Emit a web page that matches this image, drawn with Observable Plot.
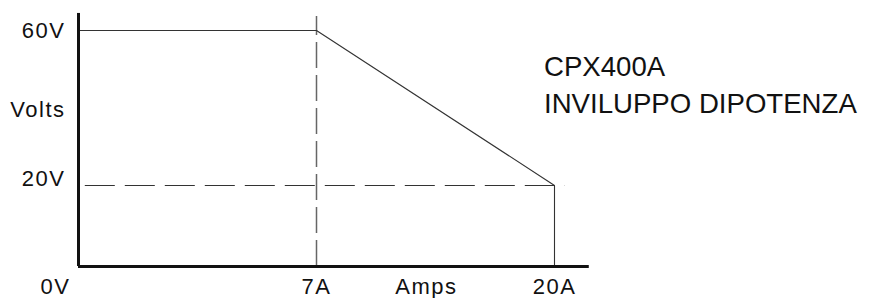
<!DOCTYPE html>
<html>
<head>
<meta charset="utf-8">
<script src="https://cdn.jsdelivr.net/npm/d3@7"></script>
<script src="https://cdn.jsdelivr.net/npm/@observablehq/plot@0.6"></script>
<style>
  html, body { margin: 0; padding: 0; background: #fff; }
  #chart { position: relative; width: 881px; height: 298px; }
  .title { position: absolute; left: 544px; top: 48px; font-family: "Liberation Sans", Arial, sans-serif; font-size: 27.6px; line-height: 37px; color: #111; white-space: nowrap; }
</style>
</head>
<body>
<div id="chart">
  <div class="title">CPX400A<br>INVILUPPO DIPOTENZA</div>
</div>
<script>
// Power envelope (Amps, Volts)
const envAmps  = [0, 7, 20, 20];
const envVolts = [60, 60, 20, 0];
// reference lines
const kneeAmps = 7;        // vertical dashed
const kneeVoltsTop = 63.6;
const minVolts = 20;       // horizontal dashed
const minVoltsFrom = 0.2, minVoltsTo = 20.6;
// axis extents
const axisAmpsMax = 21.9;
const axisVoltsMax = 64.4;
// tick labels
const xTicks = [7, 13, 20];
const xTickLabels = ["7A", "Amps", "20A"];
const yTicks = [21.8, 39.6, 59.8];
const yTickLabels = ["20V", "Volts", "60V"];
const originLabel = "0V";

const envelope = envAmps.map((a, i) => ({a, v: envVolts[i]}));
const font = '"Liberation Sans", Arial, sans-serif';

const chart = Plot.plot({
  width: 881,
  height: 298,
  marginTop: 0, marginBottom: 0, marginLeft: 0, marginRight: 0,
  x: {type: "linear", domain: [0, 7, 20], range: [78, 316, 554], axis: null},
  y: {type: "linear", domain: [0, 20, 60], range: [266, 185, 30], axis: null},
  style: {fontFamily: font, fontSize: "22px", color: "#111", background: "#fff", letterSpacing: "1.5px"},
  marks: [
    Plot.ruleX([kneeAmps], {y1: 0, y2: kneeVoltsTop, stroke: "#666", strokeWidth: 1.5, strokeDasharray: "26,7"}),
    Plot.ruleY([minVolts], {x1: minVoltsFrom, x2: minVoltsTo, stroke: "#333", strokeWidth: 1.2, strokeDasharray: "30,10"}),
    Plot.line(envelope, {x: "a", y: "v", stroke: "#333", strokeWidth: 1.1}),
    Plot.ruleX([0], {y1: 0, y2: axisVoltsMax, stroke: "#111", strokeWidth: 3}),
    Plot.ruleY([0], {x1: 0, x2: axisAmpsMax, stroke: "#111", strokeWidth: 3}),
    Plot.text(xTicks, {x: d => d, y: 0, text: (d, i) => xTickLabels[i], dy: 20, fill: "#111", fontSize: 22, textAnchor: "middle"}),
    Plot.text(yTicks, {x: 0, y: d => d, text: (d, i) => yTickLabels[i], dx: -13, fill: "#111", fontSize: 22, textAnchor: "end"}),
    Plot.text([originLabel], {x: 0, y: 0, text: d => d, dx: -8, dy: 20, fill: "#111", fontSize: 22, textAnchor: "end"})
  ]
});
document.getElementById("chart").appendChild(chart);
</script>
</body>
</html>
